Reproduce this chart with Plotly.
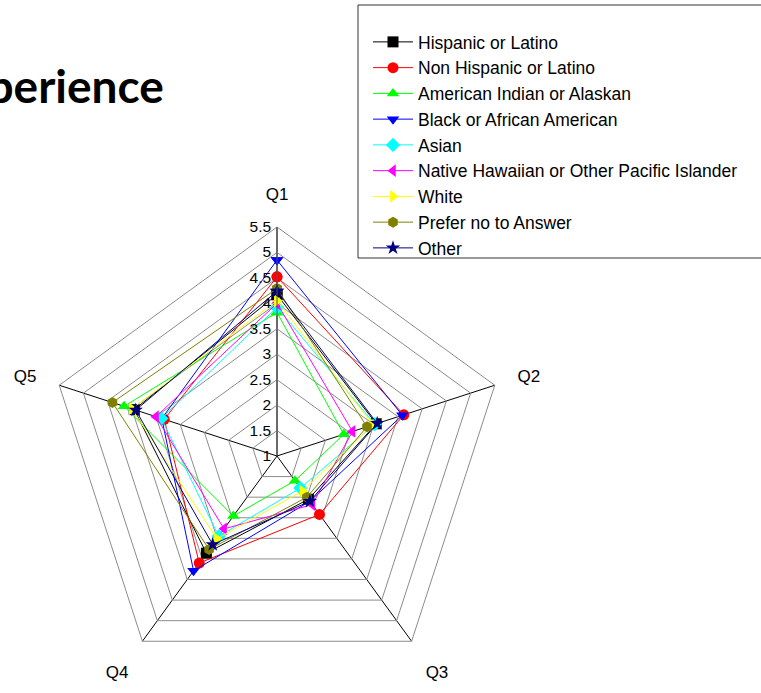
import plotly.graph_objects as go

# Survey questions around the radar and the radial scale
questions = ["Q1", "Q2", "Q3", "Q4", "Q5"]
radial_ticks = [1, 1.5, 2, 2.5, 3, 3.5, 4, 4.5, 5, 5.5]

# Mean score per question for each respondent group
hispanic = [4.17, 3.05, 2.05, 3.36, 3.95]
non_hispanic = [4.52, 3.62, 2.42, 3.60, 3.33]
american_indian = [3.82, 2.38, 1.60, 2.46, 4.16]
black_african = [4.85, 3.59, 2.10, 3.79, 3.38]
asian = [3.92, 3.02, 1.78, 2.95, 3.39]
native_hawaiian = [4.00, 2.56, 2.18, 2.77, 3.50]
white = [4.05, 2.98, 1.85, 3.01, 4.00]
prefer_not = [4.29, 2.86, 2.00, 3.27, 4.40]
other = [4.24, 3.07, 2.10, 3.15, 3.92]

group_names = [
    "Hispanic or Latino",
    "Non Hispanic or Latino",
    "American Indian or Alaskan",
    "Black or African American",
    "Asian",
    "Native Hawaiian or Other Pacific Islander",
    "White",
    "Prefer no to Answer",
    "Other",
]
group_values = [hispanic, non_hispanic, american_indian, black_african, asian,
                native_hawaiian, white, prefer_not, other]
group_colors = ["#000000", "#FF0000", "#00FF00", "#0000FF", "#00FFFF",
                "#FF00FF", "#FFFF00", "#808000", "#000080"]
group_symbols = ["square", "circle", "triangle-up", "triangle-down", "diamond",
                 "triangle-left", "triangle-right", "hexagon", "star"]

W, H = 761, 693
cx, cy, R = 277, 456, 229  # radar centre and radius in pixels

fig = go.Figure()
for name, vals, col, sym in zip(group_names, group_values, group_colors, group_symbols):
    fig.add_trace(go.Scatterpolar(
        r=vals + vals[:1],
        theta=questions + questions[:1],
        name=name,
        mode="lines+markers",
        line=dict(color=col, width=1),
        marker=dict(color=col, symbol=sym, size=11, line=dict(width=0)),
        subplot="polar",
    ))

font_family = "Arial, Liberation Sans, sans-serif"

fig.update_layout(
    width=W, height=H,
    margin=dict(l=0, r=0, t=0, b=0, autoexpand=False),
    paper_bgcolor="white",
    plot_bgcolor="white",
    showlegend=True,
    polar=dict(
        domain=dict(x=[(cx - R) / W, (cx + R) / W],
                    y=[(H - cy - R) / H, (H - cy + R) / H]),
        bgcolor="white",
        gridshape="linear",
        angularaxis=dict(
            categoryarray=questions,
            categoryorder="array",
            direction="clockwise",
            rotation=90,
            showgrid=True,
            gridcolor="#000000",
            gridwidth=1,
            showline=True,
            linecolor="#8c8c8c",
            linewidth=1,
            ticks="outside",
            ticklen=20,
            tickcolor="rgba(0,0,0,0)",
            tickfont=dict(family=font_family, size=17, color="black"),
        ),
        radialaxis=dict(
            angle=90,
            range=[1, 5.5],
            tickvals=radial_ticks,
            ticktext=[f"{t:g}" for t in radial_ticks],
            showgrid=True,
            gridcolor="#8c8c8c",
            gridwidth=1,
            showline=True,
            linecolor="#555555",
            linewidth=1,
            ticks="",
            side="counterclockwise",
            tickangle=90,
            tickfont=dict(family=font_family, size=15.5, color="black"),
        ),
    ),
    legend=dict(
        x=368 / W, y=1 - 24 / H,
        xanchor="left", yanchor="top",
        bgcolor="rgba(0,0,0,0)",
        borderwidth=0,
        itemwidth=40,
        font=dict(family=font_family, size=17.5, color="black"),
        tracegroupgap=0,
    ),
    shapes=[dict(
        type="rect", xref="paper", yref="paper",
        x0=358 / W, x1=1.2, y0=1 - 258 / H, y1=1 - 5 / H,
        line=dict(color="#333333", width=1),
        fillcolor="white", layer="below",
    )],
    annotations=[dict(
        text="<b>Experience</b>",
        xref="paper", yref="paper",
        x=166 / W, y=1 - 86 / H,
        xanchor="right", yanchor="middle",
        showarrow=False,
        font=dict(family="Lato, Open Sans, sans-serif", size=46, color="black"),
    )],
)

fig.write_html("out.html")
